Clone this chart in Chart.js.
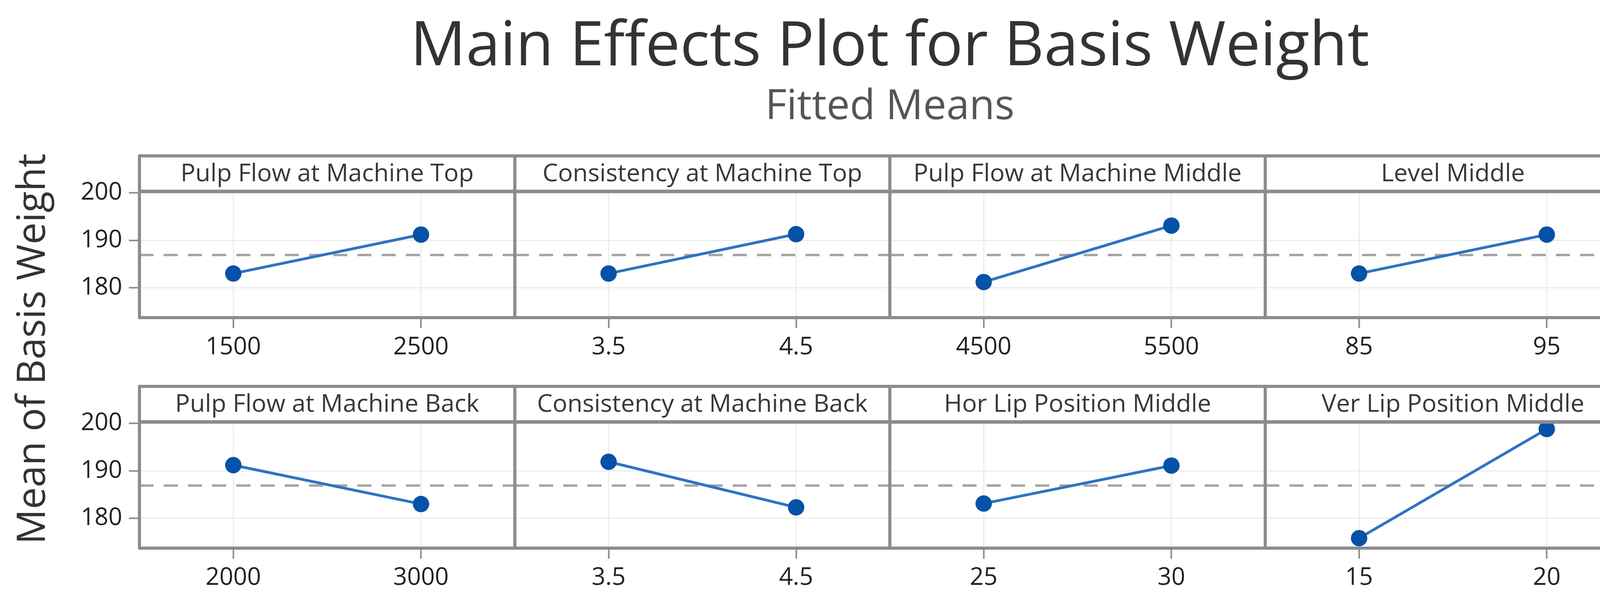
<!DOCTYPE html>
<html>
<head>
<meta charset="utf-8">
<script src="https://cdn.jsdelivr.net/npm/chart.js@4.4.1/dist/chart.umd.min.js"></script>
<style>
html, body { margin:0; padding:0; background:#ffffff; width:4233px; height:1546px; overflow:hidden; }
#wrap { position:relative; width:4233px; height:1546px; background:#ffffff; }
canvas { position:absolute; }
.txt { position:absolute; white-space:nowrap; line-height:1; font-family:'Open Sans', 'Noto Sans', sans-serif; }
#mainTitle { left:2278px; top:27px; font-size:158px; color:#333333; transform:translateX(-50%); }
#subTitle { left:2278px; top:211px; font-size:106px; color:#555555; transform:translateX(-50%); }
#yTitle { left:76px; top:893px; font-size:100px; color:#333333; transform:translate(-50%,-50%) rotate(-90deg); }
</style>
</head>
<body>
<div id="wrap">
  <div class="txt" id="mainTitle">Main Effects Plot for Basis Weight</div>
  <div class="txt" id="subTitle">Fitted Means</div>
  <div class="txt" id="yTitle">Mean of Basis Weight</div>
</div>
<script>
// ---------------- data ----------------
const factors = [
  "Pulp Flow at Machine Top",
  "Consistency at Machine Top",
  "Pulp Flow at Machine Middle",
  "Level Middle",
  "Pulp Flow at Machine Back",
  "Consistency at Machine Back",
  "Hor Lip Position Middle",
  "Ver Lip Position Middle"
];
const levels = [
  ["1500", "2500"],
  ["3.5", "4.5"],
  ["4500", "5500"],
  ["85", "95"],
  ["2000", "3000"],
  ["3.5", "4.5"],
  ["25", "30"],
  ["15", "20"]
];
const fittedMeans = [
  [183.0, 191.2],
  [183.0, 191.3],
  [181.2, 193.1],
  [183.0, 191.2],
  [191.2, 183.0],
  [191.9, 182.3],
  [183.1, 191.1],
  [175.8, 198.8]
];
const overallMean = 186.9;
const yAxisMin = 173.7;
const yAxisMax = 200.3;
const yStep = 10;

// ---------------- layout ----------------
const colEdges = [357, 1318, 2278, 3239, 4200];
const stripTops = [399, 989];
const PADTOP = 6, STRIP = 91, PLOT = 323, XAX = 130;
const LEFT_CANVAS = 150;
const RIGHT_EXTRA = 12;
const FONT = "'Open Sans', 'Noto Sans', sans-serif";

const framePlugin = {
  id: 'panelFrame',
  beforeDatasetsDraw(chart) {
    const ctx = chart.ctx, a = chart.chartArea;
    const py = chart.scales.y.getPixelForValue(overallMean);
    ctx.save();
    ctx.strokeStyle = '#a2a2a2';
    ctx.lineWidth = 6;
    ctx.setLineDash([36, 26]);
    ctx.beginPath();
    ctx.moveTo(a.left, py);
    ctx.lineTo(a.right, py);
    ctx.stroke();
    ctx.restore();
  },
  afterDatasetsDraw(chart) {
    const ctx = chart.ctx, a = chart.chartArea;
    ctx.save();
    ctx.strokeStyle = '#8c8c8c';
    ctx.lineWidth = 8;
    ctx.lineJoin = 'round';
    ctx.strokeRect(a.left, PADTOP, a.right - a.left, a.bottom - PADTOP);
    ctx.lineWidth = 9;
    ctx.beginPath();
    ctx.moveTo(a.left, a.top);
    ctx.lineTo(a.right, a.top);
    ctx.stroke();
    ctx.restore();
  }
};

const wrap = document.getElementById('wrap');

factors.forEach((name, i) => {
  const r = Math.floor(i / 4), c = i % 4;
  const left = c === 0 ? LEFT_CANVAS : colEdges[c];
  const width = colEdges[c + 1] - left + (c === 3 ? RIGHT_EXTRA : 0);
  const top = stripTops[r] - PADTOP;
  const height = PADTOP + STRIP + PLOT + XAX;
  const cv = document.createElement('canvas');
  cv.width = width; cv.height = height;
  cv.style.left = left + 'px'; cv.style.top = top + 'px';
  cv.style.width = width + 'px'; cv.style.height = height + 'px';
  wrap.appendChild(cv);

  new Chart(cv, {
    type: 'line',
    data: {
      labels: levels[i],
      datasets: [{
        data: fittedMeans[i],
        borderColor: '#2f72c2',
        borderWidth: 7,
        pointRadius: 21,
        pointHoverRadius: 21,
        pointBackgroundColor: '#0652a8',
        pointBorderColor: '#0652a8',
        pointBorderWidth: 0,
        tension: 0,
        fill: false
      }]
    },
    options: {
      responsive: false,
      animation: false,
      devicePixelRatio: 1,
      events: [],
      layout: { autoPadding: false, padding: { top: PADTOP, left: 0, right: c === 3 ? RIGHT_EXTRA : 0, bottom: 0 } },
      plugins: {
        legend: { display: false },
        tooltip: { enabled: false },
        title: {
          display: true,
          text: name,
          fullSize: false,
          color: '#383838',
          font: { family: FONT, size: 63, weight: 'normal', lineHeight: 1 },
          padding: { top: 16, bottom: 12 }
        }
      },
      scales: {
        x: {
          type: 'category',
          offset: true,
          border: { display: false },
          grid: { offset: false, color: '#ececec', lineWidth: 3, drawTicks: true, tickColor: '#8c8c8c', tickWidth: 4, tickLength: 27 },
          ticks: { color: '#222222', font: { family: FONT, size: 62 }, padding: 12, maxRotation: 0, autoSkip: false },
          afterFit: (s) => { s.height = XAX; }
        },
        y: {
          min: yAxisMin,
          max: yAxisMax,
          border: { display: false },
          grid: { color: '#ececec', lineWidth: 3, drawTicks: c === 0, tickColor: '#8c8c8c', tickWidth: 4, tickLength: 27 },
          ticks: { display: c === 0, stepSize: yStep, includeBounds: false, color: '#222222', font: { family: FONT, size: 62 }, padding: 17 },
          afterFit: (s) => { s.width = c === 0 ? (colEdges[0] - LEFT_CANVAS) : 0; }
        }
      }
    },
    plugins: [framePlugin]
  });
});
</script>
</body>
</html>
